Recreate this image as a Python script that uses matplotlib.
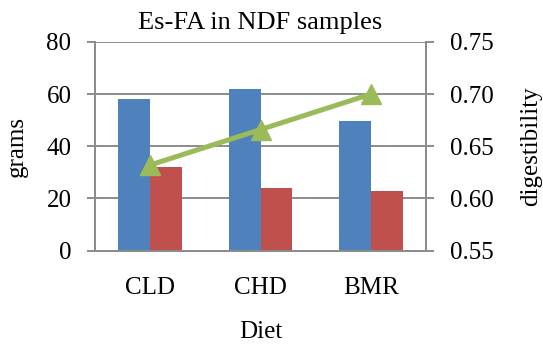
import matplotlib
matplotlib.use("Agg")
import matplotlib.pyplot as plt
import numpy as np

categories = ["CLD", "CHD", "BMR"]
grams_a = [58.2, 62.0, 49.5]
grams_b = [32.2, 24.1, 23.0]
digestibility = [0.632, 0.666, 0.700]

plt.rcParams["font.family"] = ["Liberation Serif", "DejaVu Serif"]

fig = plt.figure(figsize=(5.43, 3.47), dpi=100)
ax = fig.add_axes([95 / 543, 1 - 250.5 / 347, 331 / 543, 208.5 / 347])
ax2 = ax.twinx()

x = np.arange(len(categories)) + 0.5
w = 0.29
ax.bar(x - w / 2, grams_a, width=w, color="#4f81bd", zorder=2)
ax.bar(x + w / 2, grams_b, width=w, color="#c0504d", zorder=2)

ax2.plot(x, digestibility, color="#9bbb59", lw=3.6, marker="^", ms=14, zorder=3)

ax.set_xlim(0, 3)
ax.set_ylim(0, 80)
ax.set_yticks([0, 20, 40, 60, 80])
ax2.set_ylim(0.55, 0.75)
ax2.set_yticks([0.55, 0.60, 0.65, 0.70, 0.75])
ax2.set_yticklabels(["0.55", "0.60", "0.65", "0.70", "0.75"])
ax.set_xticks(x)
ax.set_xticklabels(categories)

grid_c = "#8c8c8c"
ax.yaxis.grid(True, color=grid_c, lw=1.4, zorder=0)
ax.set_axisbelow(True)
for a in (ax, ax2):
    for s in a.spines.values():
        s.set_color(grid_c)
        s.set_linewidth(1.4)
    a.spines["top"].set_visible(False)
fs = 18
ax.tick_params(axis="y", direction="out", length=6, width=1.4, color=grid_c, labelsize=fs, pad=11)
ax2.tick_params(axis="y", direction="out", length=6, width=1.4, color=grid_c, labelsize=fs, pad=11)
ax.tick_params(axis="x", length=0, labelsize=fs, pad=19)

ax.set_title("Es-FA in NDF samples", fontsize=19, pad=9)
ax.set_xlabel("Diet", fontsize=fs, labelpad=16)
ax.set_ylabel("grams", fontsize=fs, labelpad=13)
ax2.set_ylabel("digestibility", fontsize=fs, labelpad=19)

fig.savefig("out.png", dpi=100)
